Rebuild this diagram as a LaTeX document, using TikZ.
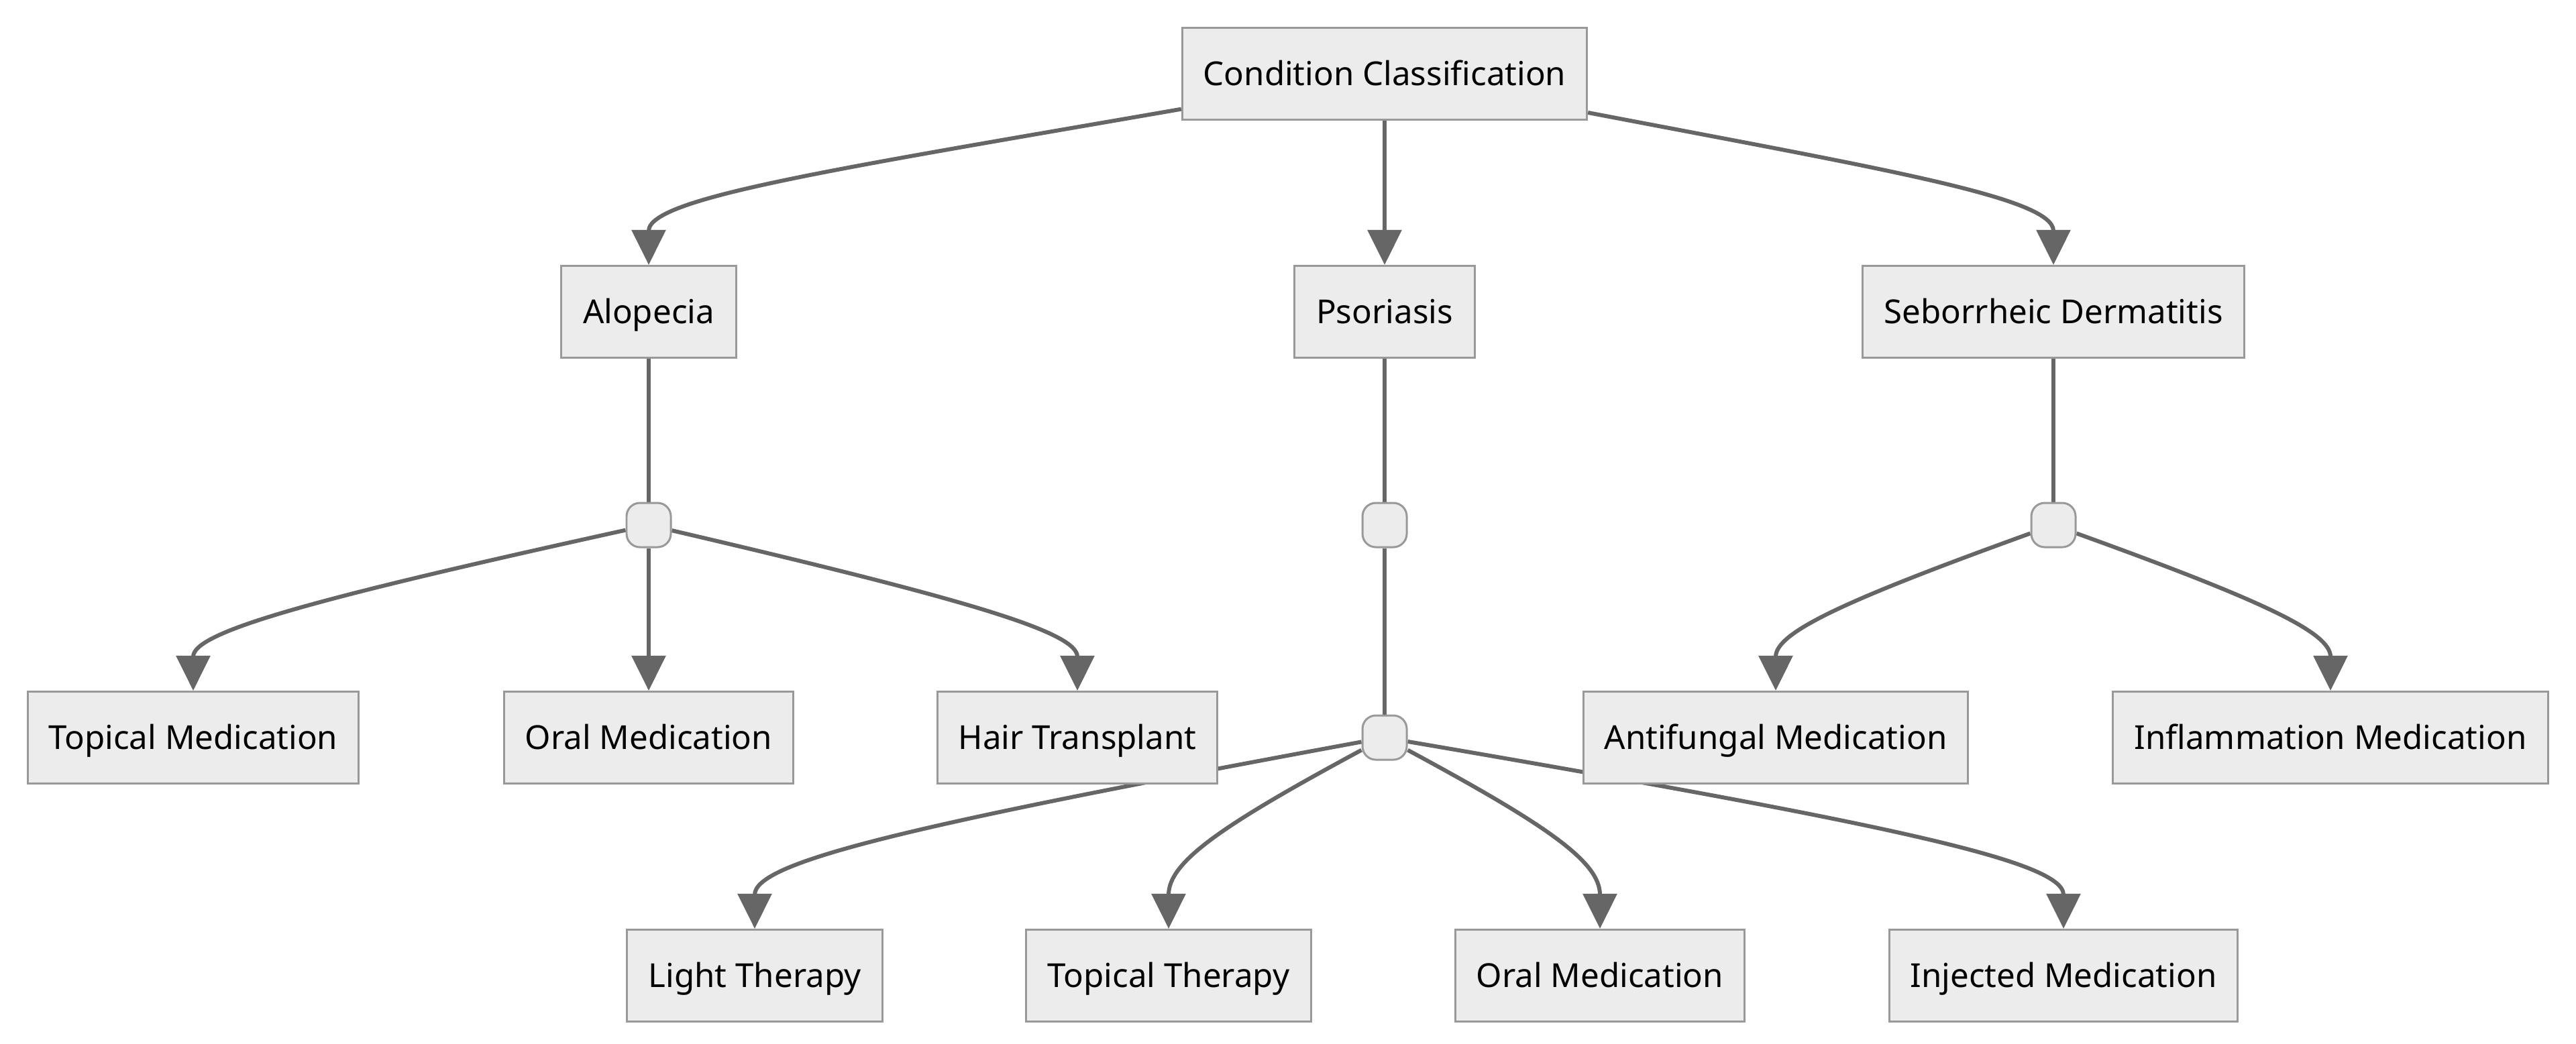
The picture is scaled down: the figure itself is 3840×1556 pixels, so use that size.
\documentclass[tikz,border=0pt]{standalone}
\usepackage{fontspec}
\setmainfont{Noto Sans}
\usetikzlibrary{arrows.meta,backgrounds}
\definecolor{nodefill}{HTML}{ECECEC}
\definecolor{nodeline}{HTML}{999999}
\definecolor{edgeline}{HTML}{666666}
\begin{document}
\begin{tikzpicture}[x=0.01cm, y=-0.01cm, font=\fontsize{14}{16}\selectfont,
  box/.style={draw=nodeline, fill=nodefill, line width=0.85pt, minimum height=1.37cm, inner xsep=0pt, text height=1em, text depth=0pt},
  hub/.style={draw=nodeline, fill=nodefill, line width=0.85pt, rounded corners=0.2cm, minimum size=0.66cm, inner sep=0pt},
  link/.style={draw=edgeline, line width=1.7pt},
  arr/.style={link, -{Triangle[length=5.2mm, width=5mm]}}]
  \useasboundingbox (0,0) rectangle (3840,1556);
  % top
  \node[box, minimum width=6.03cm] (cc) at (2064,110) {Condition Classification};
  \node[box, minimum width=2.60cm] (alo) at (967,465) {Alopecia};
  \node[box, minimum width=2.69cm] (pso) at (2064,465) {Psoriasis};
  \node[box, minimum width=5.68cm] (seb) at (3061,465) {Seborrheic Dermatitis};
  % junctions
  \node[hub] (j1) at (967,783) {};
  \node[hub] (j2) at (2064,783) {};
  \node[hub] (j3) at (3061,783) {};
  \node[hub] (j4) at (2064,1100) {};
  % treatments
  \node[box, minimum width=4.92cm] (tm) at (288,1100) {Topical Medication};
  \node[box, minimum width=4.31cm] (om1) at (967,1100) {Oral Medication};
  \node[box, minimum width=4.16cm] (ht) at (1606,1100) {Hair Transplant};
  \node[box, minimum width=5.73cm] (af) at (2647,1100) {Antifungal Medication};
  \node[box, minimum width=6.49cm] (im) at (3474,1100) {Inflammation Medication};
  \node[box, minimum width=3.80cm] (lt) at (1125,1455) {Light Therapy};
  \node[box, minimum width=4.24cm] (tt) at (1742,1455) {Topical Therapy};
  \node[box, minimum width=4.31cm] (om2) at (2385,1455) {Oral Medication};
  \node[box, minimum width=5.19cm] (inj) at (3076,1455) {Injected Medication};
  \begin{scope}[on background layer]
    \foreach \a/\b in {alo/j1, pso/j2, j2/j4, seb/j3} \draw[link] (\a) -- (\b);
    \draw[arr] (cc) -- (pso);
    \draw[arr] (cc) .. controls +(-823,143) and +(0,-100) .. (alo.north);
    \draw[arr] (cc) .. controls +(748,143) and +(0,-100) .. (seb.north);
    \draw[arr] (j1) -- (om1);
    \draw[arr] (j1) .. controls +(-509,112) and +(0,-87) .. (tm.north);
    \draw[arr] (j1) .. controls +(479,112) and +(0,-87) .. (ht.north);
    \draw[arr] (j3) .. controls +(-310,112) and +(0,-87) .. (af.north);
    \draw[arr] (j3) .. controls +(310,112) and +(0,-87) .. (im.north);
    \draw[arr] (j4) .. controls +(-704,130) and +(0,-100) .. (lt.north);
    \draw[arr] (j4) .. controls +(-241,130) and +(0,-100) .. (tt.north);
    \draw[arr] (j4) .. controls +(241,130) and +(0,-100) .. (om2.north);
    \draw[arr] (j4) .. controls +(759,130) and +(0,-100) .. (inj.north);
  \end{scope}
\end{tikzpicture}
\end{document}
